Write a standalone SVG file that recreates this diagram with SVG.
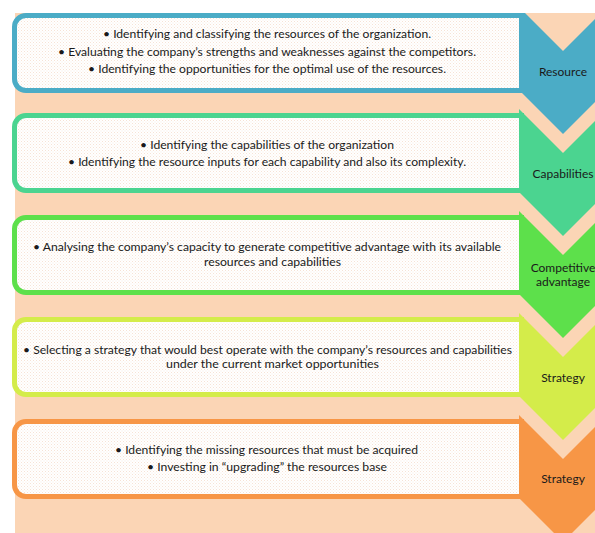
<svg xmlns="http://www.w3.org/2000/svg" width="595" height="533" viewBox="0 0 595 533">
<style>
.box{stroke-width:5;fill:url(#dots)}
.t{font-family:Lato,"Noto Sans","Liberation Sans",sans-serif;font-size:12px;fill:#1a1a1a;text-anchor:middle}
.lbl{font-family:Lato,"Noto Sans","Liberation Sans",sans-serif;font-size:12px;fill:#1a1a1a;text-anchor:middle}
</style>
<defs>
<pattern id="dots" width="3" height="3" patternUnits="userSpaceOnUse">
<rect width="3" height="3" fill="#ffffff"/>
<rect width="1" height="1" fill="#f6e3d5"/>
<rect x="1.5" y="1.5" width="1" height="1" fill="#f9ece2"/>
</pattern>
</defs>
<rect x="0" y="0" width="595" height="533" fill="#ffffff"/>
<rect x="15" y="13" width="580" height="520" fill="#FBD5B5"/>

<g id="node-resource">
<path class="box" d="M521.5,15.5 H26 A11.5,11.5 0 0 0 14.5,27 V79 A11.5,11.5 0 0 0 26,90.5 H521.5 Z" stroke="#4BACC6"/>
<polygon points="519,13 525,13 563,51 601,13 607,13 607,90 563,134 519,90" fill="#4BACC6"/>
<text class="t" x="267" y="38" textLength="328" lengthAdjust="spacingAndGlyphs">•  Identifying and classifying the resources of the organization.</text>
<text class="t" x="267" y="56" textLength="418" lengthAdjust="spacingAndGlyphs">•  Evaluating the company’s strengths and weaknesses against the competitors.</text>
<text class="t" x="267" y="73" textLength="358" lengthAdjust="spacingAndGlyphs">•  Identifying the opportunities for the optimal use of the resources.</text>
<text class="lbl" x="563" y="76">Resource</text>
</g>

<g id="node-capabilities">
<path class="box" d="M521.5,115.5 H26 A11.5,11.5 0 0 0 14.5,127 V179 A11.5,11.5 0 0 0 26,190.5 H521.5 Z" stroke="#4BD490"/>
<polygon points="519,109 563,153 607,109 607,192 563,236 519,192" fill="#4BD490"/>
<text class="t" x="267" y="149" textLength="254" lengthAdjust="spacingAndGlyphs">•  Identifying the capabilities of the organization</text>
<text class="t" x="267" y="166" textLength="398" lengthAdjust="spacingAndGlyphs">•  Identifying the resource inputs for each capability and also its complexity.</text>
<text class="lbl" x="563" y="178">Capabilities</text>
</g>

<g id="node-competitive-advantage">
<path class="box" d="M521.5,217.5 H26 A11.5,11.5 0 0 0 14.5,229 V281 A11.5,11.5 0 0 0 26,292.5 H521.5 Z" stroke="#5DE04B"/>
<polygon points="519,211 563,255 607,211 607,294 563,338 519,294" fill="#5DE04B"/>
<text class="t" x="267" y="251" textLength="468" lengthAdjust="spacingAndGlyphs">•  Analysing the company’s capacity to generate competitive advantage with its available</text>
<text class="t" x="272.5" y="266" textLength="137" lengthAdjust="spacingAndGlyphs">resources and capabilities</text>
<text class="lbl" x="563" y="272">Competitive</text>
<text class="lbl" x="563" y="286">advantage</text>
</g>

<g id="node-strategy-1">
<path class="box" d="M521.5,319.5 H26 A11.5,11.5 0 0 0 14.5,331 V383 A11.5,11.5 0 0 0 26,394.5 H521.5 Z" stroke="#D4EC4A"/>
<polygon points="519,313 563,357 607,313 607,396 563,440 519,396" fill="#D4EC4A"/>
<text class="t" x="267.5" y="354" textLength="489" lengthAdjust="spacingAndGlyphs">•  Selecting a strategy that would best operate with the company’s resources and capabilities</text>
<text class="t" x="272.5" y="368" textLength="213" lengthAdjust="spacingAndGlyphs">under the current market  opportunities</text>
<text class="lbl" x="563" y="382">Strategy</text>
</g>

<g id="node-strategy-2">
<path class="box" d="M521.5,421.5 H26 A11.5,11.5 0 0 0 14.5,433 V485 A11.5,11.5 0 0 0 26,496.5 H521.5 Z" stroke="#F79646"/>
<polygon points="519,415 563,459 607,415 607,498 563,542 519,498" fill="#F79646"/>
<text class="t" x="266.5" y="454" textLength="303" lengthAdjust="spacingAndGlyphs">•  Identifying the missing resources that must be acquired</text>
<text class="t" x="267" y="471" textLength="240" lengthAdjust="spacingAndGlyphs">•  Investing in “upgrading” the resources base</text>
<text class="lbl" x="563" y="483">Strategy</text>
</g>

<g id="connectors"></g>
</svg>
